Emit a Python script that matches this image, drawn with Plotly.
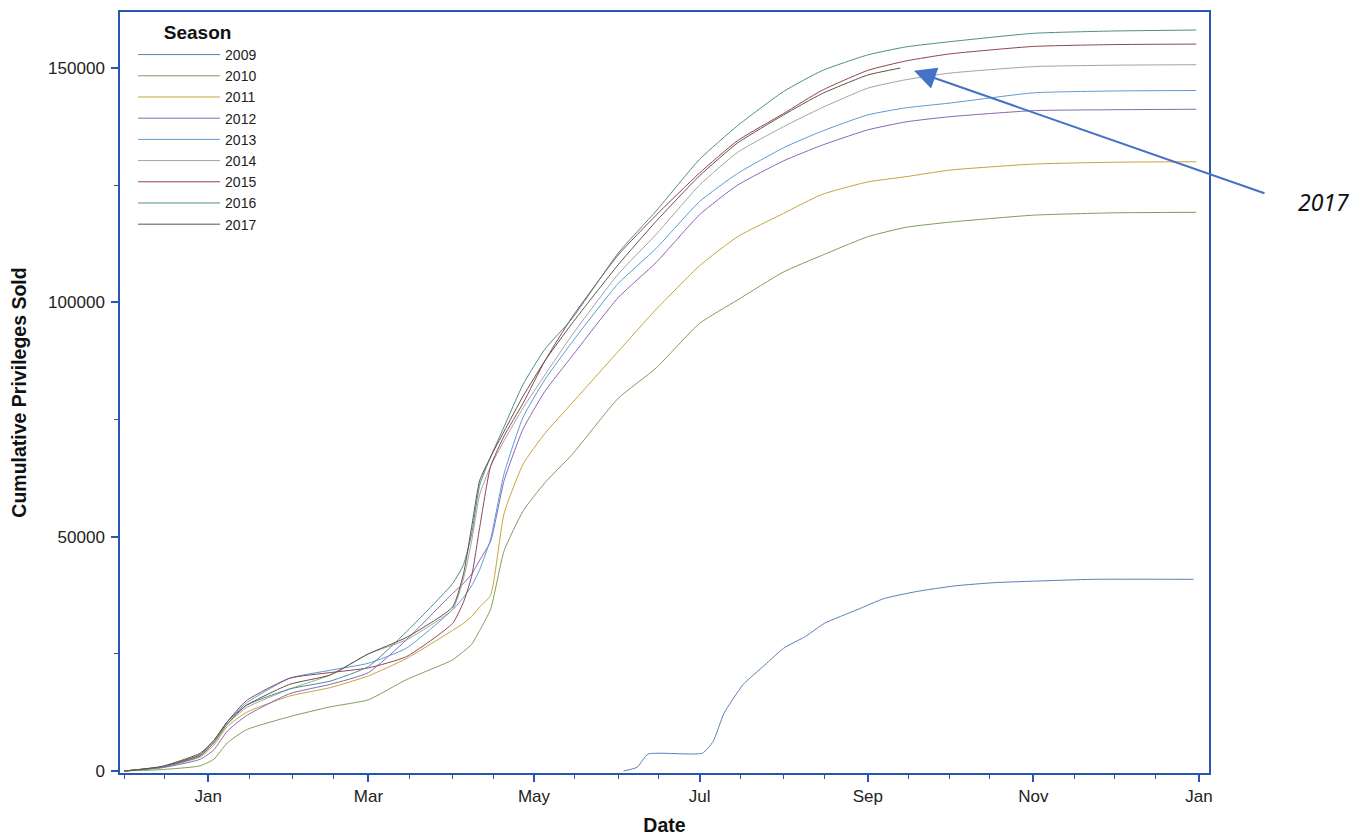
import plotly.graph_objects as go

# ---------------- data ----------------
FULL_DATES = ["2000-12-01", "2000-12-15", "2000-12-29", "2001-01-03", "2001-01-08", "2001-01-15",
              "2001-01-31", "2001-02-15", "2001-03-01", "2001-03-15", "2001-04-01", "2001-04-05",
              "2001-04-08", "2001-04-11", "2001-04-15", "2001-04-20", "2001-04-27", "2001-05-05",
              "2001-05-15", "2001-06-01", "2001-06-15", "2001-07-01", "2001-07-15", "2001-08-01",
              "2001-08-15", "2001-09-01", "2001-09-15", "2001-10-01", "2001-11-01", "2001-12-01",
              "2001-12-31"]

DATES_2009 = ["2001-06-03", "2001-06-08", "2001-06-12", "2001-07-02", "2001-07-06", "2001-07-10",
              "2001-07-17", "2001-07-25", "2001-08-01", "2001-08-09", "2001-08-16", "2001-08-28",
              "2001-09-07", "2001-09-19", "2001-10-03", "2001-10-18", "2001-11-01", "2001-11-23",
              "2001-12-30"]
VALS_2009 = [0, 800, 3600, 3800, 6300, 12300, 18400, 22600, 26200, 28700, 31500, 34400,
             36800, 38300, 39500, 40200, 40500, 40900, 40900]

VALS_2010 = [0, 300, 1100, 2500, 6000, 8800, 11600, 13700, 15200, 19500, 23700, 25500, 27000,
             30000, 34500, 47000, 55500, 61500, 67500, 79500, 86000, 95500, 100500, 106500,
             110000, 114000, 116000, 117100, 118600, 119100, 119200]
VALS_2011 = [0, 800, 3000, 5500, 9500, 12500, 16000, 17800, 20300, 24000, 30000, 31500, 33000,
             35000, 37500, 55000, 65500, 72000, 78500, 89500, 98500, 107800, 114000, 119000,
             123000, 125700, 126800, 128200, 129500, 129900, 130000]
VALS_2012 = [0, 700, 2500, 4500, 8500, 11800, 16500, 18500, 21000, 28000, 37900, 40000, 42000,
             45000, 49000, 62000, 73000, 81000, 88500, 101000, 108500, 118700, 125000, 130200,
             133500, 136800, 138500, 139600, 140900, 141100, 141200]
VALS_2013 = [0, 900, 3200, 6000, 10500, 14500, 19800, 21500, 23000, 26200, 34400, 37000, 39500,
             43000, 49500, 63500, 75500, 83500, 91500, 104000, 111500, 121500, 127500, 133000,
             136500, 140000, 141500, 142500, 144700, 145100, 145200]
VALS_2014 = [0, 900, 3500, 6000, 10000, 13500, 17500, 20500, 25000, 28000, 34500, 41000, 49000,
             59000, 65000, 70500, 77500, 84500, 93000, 106000, 114500, 125000, 132000, 137500,
             141500, 145700, 147500, 148900, 150300, 150600, 150700]
VALS_2015 = [0, 900, 3500, 6500, 10500, 15000, 19800, 21000, 22000, 24400, 31500, 36000, 41500,
             52000, 65000, 71500, 78500, 87500, 96800, 110100, 118600, 127600, 134500, 140300,
             145200, 149500, 151500, 153000, 154600, 155000, 155100]
VALS_2016 = [0, 800, 3200, 6000, 10000, 14000, 17500, 19200, 22300, 29700, 40000, 44000, 50500,
             61000, 67000, 73500, 82500, 90000, 96500, 110500, 119500, 130500, 137700, 145000,
             149400, 152800, 154500, 155600, 157400, 157900, 158100]
DATES_2017 = FULL_DATES[:26] + ["2001-09-13"]
VALS_2017 = [0, 1000, 3800, 6500, 10500, 14000, 18500, 20500, 25000, 28500, 35000, 42000, 52000,
             62000, 67000, 72500, 80000, 87500, 95500, 108000, 117300, 127000, 134000, 140000,
             144500, 148500, 150000]

SEASONS = ["2009", "2010", "2011", "2012", "2013", "2014", "2015", "2016", "2017"]
SERIES = {
    "2009": (DATES_2009, VALS_2009),
    "2010": (FULL_DATES, VALS_2010),
    "2011": (FULL_DATES, VALS_2011),
    "2012": (FULL_DATES, VALS_2012),
    "2013": (FULL_DATES, VALS_2013),
    "2014": (FULL_DATES, VALS_2014),
    "2015": (FULL_DATES, VALS_2015),
    "2016": (FULL_DATES, VALS_2016),
    "2017": (DATES_2017, VALS_2017),
}
COLORS = {"2009": "#5B7FB8", "2010": "#7BA05B", "2011": "#C8A23A", "2012": "#8B66B8",
          "2013": "#5D9AD6", "2014": "#A3A3A3", "2015": "#8E4458", "2016": "#4E8E8C",
          "2017": "#615440"}

MAJOR_TICKS = ["2001-01-01", "2001-03-01", "2001-05-01", "2001-07-01", "2001-09-01",
               "2001-11-01", "2002-01-01"]
MAJOR_LABELS = ["Jan", "Mar", "May", "Jul", "Sep", "Nov", "Jan"]
MINOR_TICKS = ["2000-12-01", "2000-12-16", "2001-01-16", "2001-02-01", "2001-02-16",
               "2001-03-16", "2001-04-01", "2001-04-16", "2001-05-16", "2001-06-01",
               "2001-06-16", "2001-07-16", "2001-08-01", "2001-08-16", "2001-09-16",
               "2001-10-01", "2001-10-16", "2001-11-16", "2001-12-01", "2001-12-16"]
Y_TICKS = [0, 50000, 100000, 150000]
Y_MINOR = [25000, 75000, 125000]

ARROW_TIP = ("2001-09-18", 149400)

# ---------------- figure ----------------
AXIS_BLUE = "#2B55B5"
FONT = "Liberation Sans, Arial, sans-serif"

fig = go.Figure()
for s in SEASONS:
    d, v = SERIES[s]
    fig.add_trace(go.Scatter(
        x=d, y=v, mode="lines", name=s,
        line=dict(color=COLORS[s], width=1, shape="spline", smoothing=0.5),
    ))

fig.update_layout(
    width=1353, height=836, autosize=False,
    margin=dict(l=120, r=144, t=12, b=63),
    paper_bgcolor="white", plot_bgcolor="white",
    font=dict(family=FONT, size=17, color="#222222"),
    showlegend=True,
    legend=dict(
        x=0.012, y=0.997, xanchor="left", yanchor="top",
        bgcolor="rgba(0,0,0,0)",
        title=dict(text="<b>Season</b>", side="top center", font=dict(size=19, color="#111111")),
        font=dict(size=14, color="#222222"),
        itemwidth=82, tracegroupgap=0,
    ),
)

fig.update_xaxes(
    type="date", automargin=False,
    range=["2000-11-29 11:00", "2002-01-04 17:00"],
    tickmode="array", tickvals=MAJOR_TICKS, ticktext=MAJOR_LABELS,
    ticks="outside", ticklen=7, tickwidth=1.5, tickcolor=AXIS_BLUE,
    minor=dict(tickmode="array", tickvals=MINOR_TICKS, ticks="outside", ticklen=4,
               tickwidth=1.2, tickcolor=AXIS_BLUE, showgrid=False),
    showline=True, linecolor=AXIS_BLUE, linewidth=1.5, mirror=True,
    showgrid=False, zeroline=False,
    title=dict(text="<b>Date</b>", font=dict(size=19.5, color="#111111"), standoff=19),
    tickfont=dict(size=17, color="#222222"),
)
fig.update_yaxes(
    automargin=False,
    range=[-427, 161950],
    tickmode="array", tickvals=Y_TICKS, tickformat="d",
    ticks="outside", ticklen=7, tickwidth=1.5, tickcolor=AXIS_BLUE,
    ticklabelstandoff=3,
    minor=dict(tickmode="array", tickvals=Y_MINOR, ticks="outside", ticklen=4,
               tickwidth=1.2, tickcolor=AXIS_BLUE, showgrid=False),
    showline=True, linecolor=AXIS_BLUE, linewidth=1.5, mirror=True,
    showgrid=False, zeroline=False,
    title=dict(text="<b>Cumulative Privileges Sold</b>", font=dict(size=19.5, color="#111111"),
               standoff=16),
    tickfont=dict(size=17, color="#222222"),
)

# arrow pointing at the 2017 curve
fig.add_annotation(
    x=ARROW_TIP[0], y=ARROW_TIP[1], xref="x", yref="y",
    text="", showarrow=True, axref="pixel", ayref="pixel", ax=352, ay=123,
    arrowhead=2, arrowsize=2.2, arrowwidth=2, arrowcolor="#4472C4", standoff=0,
)
fig.add_annotation(
    x=1.1047, y=0.7503, xref="paper", yref="paper", xanchor="center", yanchor="middle",
    text="<i>2017</i>", showarrow=False,
    font=dict(family="Noto Sans, Open Sans, sans-serif", size=23, color="#111111"),
)

fig.write_html("out.html", config={"displayModeBar": False},
               post_script="document.body.style.margin='0';document.body.style.overflow='hidden';")
